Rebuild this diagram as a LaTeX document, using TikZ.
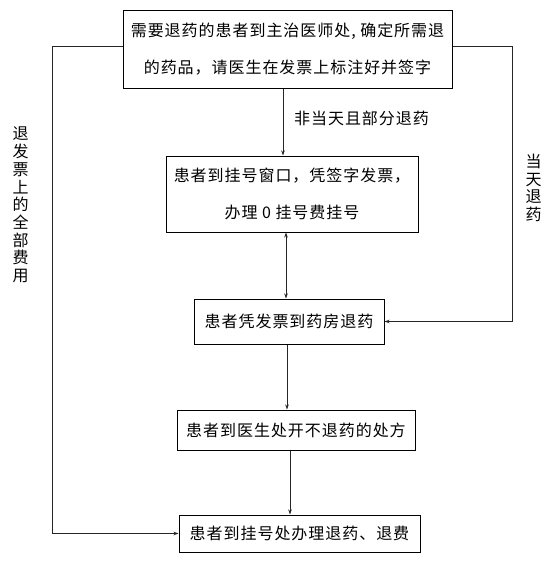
\documentclass[tikz,border=0pt]{standalone}
\usepackage{fontspec}
\newfontfamily\cjk{Noto Sans CJK SC}[LetterSpace=6]
\usetikzlibrary{arrows.meta}
\begin{document}
\begin{tikzpicture}[x=1pt,y=-1pt,font=\cjk\fontsize{16pt}{36.7pt}\selectfont,
	>={Stealth[length=5pt,width=3.5pt]}]
	\useasboundingbox (0,0) rectangle (557,563);
	\begin{scope}[every node/.style={rectangle,draw,line width=1pt,align=center,inner sep=0pt}]
	\node[minimum width=329pt,minimum height=78pt] (ask) at (287.5,49) {需要退药的患者到主治医师处, 确定所需退\\的药品，请医生在发票上标注好并签字};
	\node[minimum width=252pt,minimum height=76pt] (window) at (292,194) {患者到挂号窗口，凭签字发票，\\办理 0 挂号费挂号};
	\node[minimum width=190pt,minimum height=45pt] (pharmacy) at (289,321.5) {患者凭发票到药房退药};
	\node[minimum width=238pt,minimum height=40pt] (doctor) at (296,430) {患者到医生处开不退药的处方};
	\node[minimum width=241pt,minimum height=37pt] (refund) at (299.5,533.5) {患者到挂号处办理退药、退费};
	\end{scope}
	\coordinate (c1) at (283,0);
	\coordinate (c2) at (286,0);
	\coordinate (c3) at (287,0);
	\coordinate (c4) at (290,0);
	\begin{scope}[every edge/.style={draw=black!85,line width=0.8pt}]
	\path (ask.south -| c1) edge[->] (window.north -| c1);
	\path (window.south -| c2) edge[<->] (pharmacy.north -| c2);
	\path (pharmacy.south -| c3) edge[->] (doctor.north -| c3);
	\path (doctor.south -| c4) edge[->] (refund.north -| c4);
	\end{scope}
	\draw[->,draw=black!85,line width=0.8pt] ([yshift=3pt]ask.west) -- ++(-70.3,0) |- (refund.west);
	\draw[->,draw=black!85,line width=0.8pt] ([yshift=3pt]ask.east) -- ++(60,0) |- (pharmacy.east);
	\node (partial) at (361.5,118) {非当天且部分退药};
	\begin{scope}[every node/.style={align=center,inner sep=0pt,font=\cjk\fontsize{16pt}{17.7pt}\selectfont}]
	\node (allfee) at (20.7,205) {退\\发\\票\\上\\的\\全\\部\\费\\用};
	\node (sameday) at (533.7,188) {当\\天\\退\\药};
	\end{scope}
\end{tikzpicture}
\end{document}
